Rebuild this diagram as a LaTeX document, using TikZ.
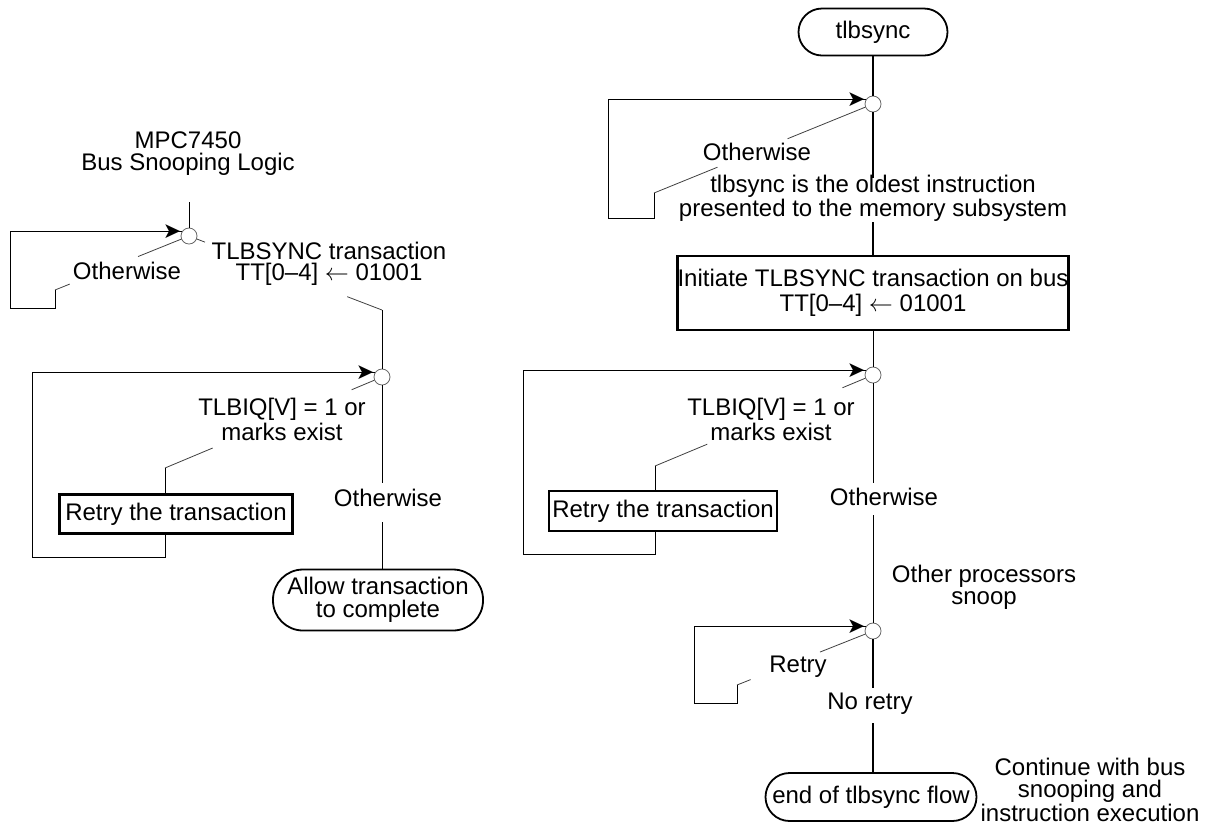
\documentclass[tikz,border=0pt]{standalone}
\usepackage{fontspec}
\setmainfont{Liberation Sans}
\newfontfamily\symfont{DejaVu Sans}
\usetikzlibrary{calc}

\tikzset{
  txt/.style={align=center, inner sep=0pt, font=\fontsize{12}{11}\selectfont},
  widetxt/.style={txt, font=\fontsize{12}{12.5}\selectfont},
  term/.style={draw, line width=0.9pt, rounded corners=11.75pt, align=center,
    inner sep=0pt, font=\fontsize{12}{11.5}\selectfont},
  actbox/.style={draw, line width=1.2pt, align=center, inner sep=0pt,
    font=\fontsize{12}{12.5}\selectfont},
  junct/.style={circle, draw=black!60, line width=0.4pt,
    minimum size=8pt, inner sep=0pt},
  flow/.style={line width=0.8pt},
  loopline/.style={line width=0.5pt},
  headglyph/.style={anchor=east, inner sep=0pt, font=\symfont\fontsize{11}{11}\selectfont},
  lead/.style={line width=0.4pt, black!75}
}

\begin{document}
\begin{tikzpicture}[x=0.5pt, y=0.5pt]
    \useasboundingbox (0,0) rectangle (1220,-826);

    % Snooping side
    \node[txt] (snoop) at (188,-154) {MPC7450\\Bus Snooping Logic};
    \coordinate (s0) at (189,-202);
    \node[junct] (c1) at (189,-236) {};
    \coordinate (k1) at (55,-290);
    \node[txt] (oth1) at (127,-271) {Otherwise};
    \node[txt, font=\fontsize{12}{10.5}\selectfont] (tsync) at (329,-264) {TLBSYNC transaction\\TT[0--4] $\leftarrow$ 01001};
    \coordinate (k2) at (382,-310);
    \node[junct] (c2) at (382,-377) {};
    \node[widetxt] (tlbiq1) at (282,-419) {TLBIQ[V] = 1 or\\marks exist};
    \coordinate (k3) at (165,-468);
    \node[actbox, minimum width=116.5pt, minimum height=19.5pt] (retry1) at (176,-514) {Retry the transaction};
    \node[txt] (oth2) at (388,-498) {Otherwise};
    \node[term, minimum width=105pt, minimum height=30.5pt, rounded corners=15pt] (allow) at (378,-600) {Allow transaction\\to complete};

    \draw[loopline] (s0) -- (c1);
    \draw[lead] (c1) -- ($(c1)!.38!(k1)$) ($(c1)!.89!(k1)$) -- (k1);
    \draw[loopline] (k1) -- ++(0,-18) -- ++(-45,0) |- (c1.150);
    \node[headglyph] (h1) at (c1.150) {➤};
    \draw[lead] (c1) -- ($(c1)!.083!(k2)$) ($(c1)!.82!(k2)$) -- (k2);
    \draw[loopline] (k2) -- (c2);
    \draw[lead] (c2) -- ($(c2)!.14!(k3)$) ($(c2)!.78!(k3)$) -- (k3);
    \draw[loopline] (k3) -- (k3 |- retry1.north);
    \draw[loopline] (k3 |- retry1.south) -- ++(0,-23) -- ++(-133,0) |- (c2.150);
    \node[headglyph] (h2) at (c2.150) {➤};
    \draw[loopline] (c2) -- ++(0,-106) ++(0,-39) -- (c2 |- allow.north);

    % tlbsync side
    \node[term, minimum width=74.5pt, minimum height=23.5pt] (start) at (873,-32) {tlbsync};
    \node[junct] (c3) at (873,-104) {};
    \coordinate (k4) at (654,-193);
    \node[txt] (oth3) at (757,-152) {Otherwise};
    \node[txt] (oldest) at (873,-198) {tlbsync is the oldest instruction\\presented to the memory subsystem};
    \node[actbox, minimum width=195.5pt, minimum height=37pt] (init) at (873,-293) {Initiate TLBSYNC transaction on bus\\TT[0--4] $\leftarrow$ 01001};
    \node[junct] (c4) at (873,-375) {};
    \node[widetxt] (tlbiq2) at (771,-419) {TLBIQ[V] = 1 or\\marks exist};
    \coordinate (k5) at (655,-466);
    \node[actbox, minimum width=114pt, minimum height=20pt] (retry2) at (663,-511) {Retry the transaction};
    \node[txt] (oth4) at (884,-497) {Otherwise};
    \node[txt] (others) at (984,-587) {Other processors\\snoop};
    \node[junct] (c5) at (873,-631) {};
    \coordinate (k6) at (737,-685);
    \node[txt] (retrylbl) at (798,-667) {Retry};
    \node[txt] (noretry) at (870,-704) {No retry};
    \node[term, minimum width=105.5pt, minimum height=24pt, rounded corners=12pt] (finish) at (871,-797) {end of tlbsync flow};
    \node[txt] (cont) at (1090,-790) {Continue with bus\\snooping and\\instruction execution};

    \draw[flow] (start) -- (c3);
    \draw[lead] (c3) -- ($(c3)!.39!(k4)$) ($(c3)!.71!(k4)$) -- (k4);
    \draw[loopline] (k4) -- ++(0,-25) -- ++(-46,0) |- (c3.150);
    \node[headglyph] (h3) at (c3.150) {➤};
    \draw[flow] (c3) -- ++(0,-74) ++(0,-44) -- (c3 |- init.north);
    \draw[loopline] (init) -- (c4);
    \draw[lead] (c4) -- ($(c4)!.14!(k5)$) ($(c4)!.76!(k5)$) -- (k5);
    \draw[loopline] (k5) -- (k5 |- retry2.north);
    \draw[loopline] (k5 |- retry2.south) -- ++(0,-22) -- ++(-132,0) |- (c4.150);
    \node[headglyph] (h4) at (c4.150) {➤};
    \draw[loopline] (c4) -- ++(0,-108) ++(0,-32) -- (c5);
    \draw[lead] (c5) -- ($(c5)!.39!(k6)$) ($(c5)!.9!(k6)$) -- (k6);
    \draw[loopline] (k6) -- ++(0,-18) -- ++(-43,0) |- (c5.150);
    \node[headglyph] (h5) at (c5.150) {➤};
    \draw[flow] (c5) -- ++(0,-57) ++(0,-35) -- (c5 |- finish.north);
\end{tikzpicture}
\end{document}
